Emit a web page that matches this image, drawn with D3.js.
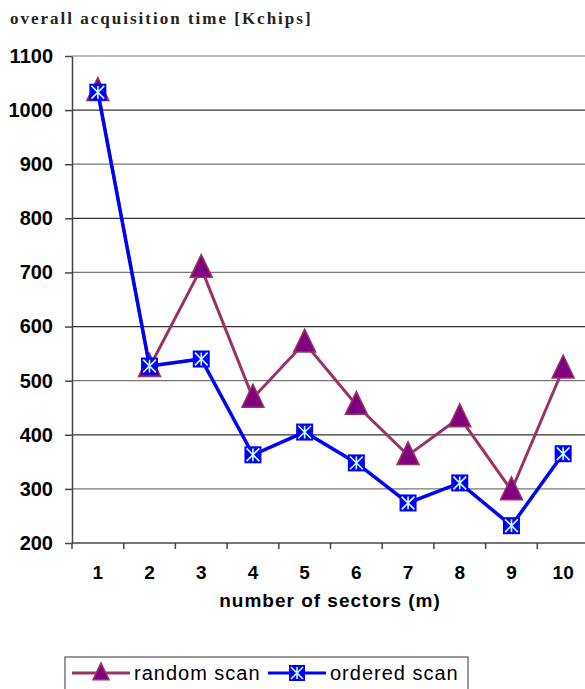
<!DOCTYPE html>
<html>
<head>
<meta charset="utf-8">
<script src="https://cdn.jsdelivr.net/npm/d3@7"></script>
<style>
  body { margin: 0; background: #fff; }
  svg { display: block; }
</style>
</head>
<body>
<svg id="chart" width="585" height="689"></svg>
<script>
// ── Data ──────────────────────────────────────────────────────────────────────
const sectors     = [1, 2, 3, 4, 5, 6, 7, 8, 9, 10];
const randomScan  = [1035, 525, 708, 468, 570, 455, 362, 432, 297, 522];
const orderedScan = [1033, 527, 540, 363, 405, 348, 274, 311, 232, 365];
const yTicks      = [200, 300, 400, 500, 600, 700, 800, 900, 1000, 1100];

// ── Dimensions ────────────────────────────────────────────────────────────────
const plot = { left: 72, right: 589, top: 56, bottom: 543 };
const svg = d3.select('#chart');
const sans = 'Liberation Sans, Arial, sans-serif';

const x = d3.scaleBand().domain(sectors).range([plot.left, plot.right]);
const y = d3.scaleLinear().domain([200, 1100]).range([plot.bottom, plot.top]);

// Title
svg.append('text')
  .attr('x', 10).attr('y', 24)
  .attr('font-family', 'Liberation Serif, Times New Roman, serif')
  .attr('font-weight', 'bold')
  .attr('font-size', 17)
  .attr('letter-spacing', 2)
  .attr('fill', '#222')
  .text('overall acquisition time [Kchips]');

// Grid
svg.append('g')
  .selectAll('line')
  .data(yTicks.slice(1))
  .join('line')
  .attr('x1', plot.left).attr('x2', 585)
  .attr('y1', d => y(d)).attr('y2', d => y(d))
  .attr('stroke', (d, i) => i % 2 ? '#333' : '#777')
  .attr('stroke-width', 1.2);

// Y axis
const yAxis = svg.append('g')
  .attr('transform', `translate(${plot.left},0)`)
  .call(d3.axisLeft(y).tickValues(yTicks).tickFormat(d3.format('d'))
    .tickSize(7).tickPadding(12).tickSizeOuter(0));
yAxis.select('.domain').attr('stroke', '#444').attr('stroke-width', 1.5);
yAxis.selectAll('.tick line').attr('stroke', '#444').attr('stroke-width', 1.5);
yAxis.selectAll('text')
  .attr('font-family', sans)
  .attr('font-weight', 'bold')
  .attr('font-size', 20)
  .attr('fill', '#000');

// X axis
const xAxis = svg.append('g')
  .attr('transform', `translate(0,${plot.bottom})`)
  .call(d3.axisBottom(x).tickSize(0).tickPadding(23));
xAxis.select('.domain').remove();
svg.append('line')
  .attr('x1', plot.left).attr('x2', 585)
  .attr('y1', plot.bottom).attr('y2', plot.bottom)
  .attr('stroke', '#444').attr('stroke-width', 1.5);
svg.append('g')
  .selectAll('line')
  .data(sectors)
  .join('line')
  .attr('x1', d => x(d)).attr('x2', d => x(d))
  .attr('y1', plot.bottom).attr('y2', plot.bottom + 6)
  .attr('stroke', '#444').attr('stroke-width', 1.5);
xAxis.selectAll('text')
  .attr('font-family', sans)
  .attr('font-weight', 'bold')
  .attr('font-size', 19)
  .attr('fill', '#000');

svg.append('text')
  .attr('x', 330).attr('y', 607)
  .attr('text-anchor', 'middle')
  .attr('font-family', sans)
  .attr('font-weight', 'bold')
  .attr('font-size', 19)
  .attr('letter-spacing', 1)
  .attr('fill', '#000')
  .text('number of sectors (m)');

// ── Series ────────────────────────────────────────────────────────────────────
const cx = d => x(d) + x.bandwidth() / 2;
const line = vals => d3.line().x((d, i) => cx(sectors[i])).y(d => y(d))(vals);

function triangle(g, px, py, s) {
  g.append('path')
    .attr('d', `M${px},${py - s * 0.62} L${px + s / 2},${py + s * 0.42} L${px - s / 2},${py + s * 0.42} Z`)
    .attr('fill', '#800080')
    .attr('stroke', '#993366')
    .attr('stroke-width', 1.5);
}

function xbox(g, px, py, s) {
  const h = s / 2;
  g.append('rect')
    .attr('x', px - h).attr('y', py - h)
    .attr('width', s).attr('height', s)
    .attr('fill', '#0000ff');
  const a = h * 0.75;
  g.append('path')
    .attr('d', `M${px - a},${py - a} L${px + a},${py + a} M${px - a},${py + a} L${px + a},${py - a} M${px},${py - a} L${px},${py + a}`)
    .attr('stroke', '#ccffff')
    .attr('stroke-width', 1.6);
}

svg.append('path')
  .attr('d', line(randomScan))
  .attr('fill', 'none')
  .attr('stroke', '#993366')
  .attr('stroke-width', 3);

const gR = svg.append('g');
randomScan.forEach((v, i) => triangle(gR, cx(sectors[i]), y(v), 22));

svg.append('path')
  .attr('d', line(orderedScan))
  .attr('fill', 'none')
  .attr('stroke', '#0000ff')
  .attr('stroke-width', 3.5);

const gO = svg.append('g');
orderedScan.forEach((v, i) => xbox(gO, cx(sectors[i]), y(v), 17));

// ── Legend ────────────────────────────────────────────────────────────────────
const lg = svg.append('g');
lg.append('rect')
  .attr('x', 65).attr('y', 657)
  .attr('width', 403).attr('height', 40)
  .attr('fill', '#fff')
  .attr('stroke', '#555')
  .attr('stroke-width', 1.2);

const ly = 673;
lg.append('line').attr('x1', 72).attr('x2', 130).attr('y1', ly).attr('y2', ly)
  .attr('stroke', '#993366').attr('stroke-width', 3);
triangle(lg, 101, ly, 16);
lg.append('text')
  .attr('x', 134).attr('y', ly + 7)
  .attr('font-family', sans)
  .attr('font-size', 20)
  .attr('letter-spacing', 1)
  .attr('fill', '#000')
  .text('random scan');

lg.append('line').attr('x1', 268).attr('x2', 326).attr('y1', ly).attr('y2', ly)
  .attr('stroke', '#0000ff').attr('stroke-width', 3);
xbox(lg, 297, ly, 16);
lg.append('text')
  .attr('x', 330).attr('y', ly + 7)
  .attr('font-family', sans)
  .attr('font-size', 20)
  .attr('letter-spacing', 1)
  .attr('fill', '#000')
  .text('ordered scan');
</script>
</body>
</html>
